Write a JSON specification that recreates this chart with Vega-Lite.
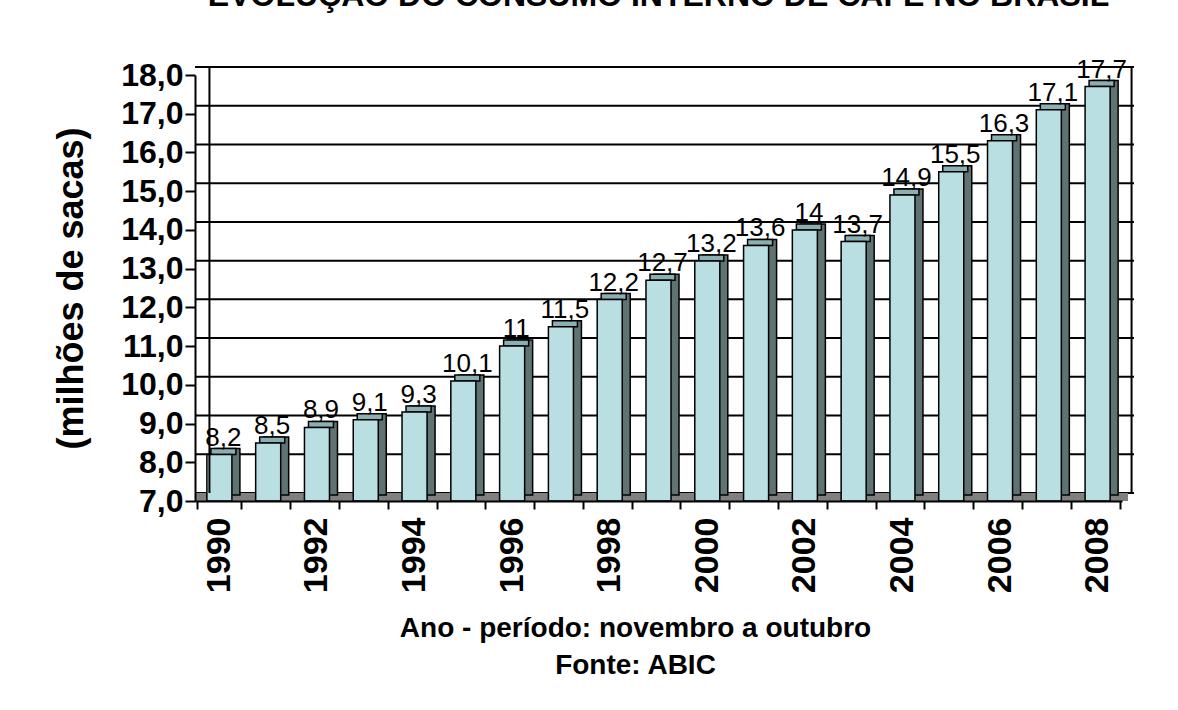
{
  "$schema": "https://vega.github.io/schema/vega-lite/v6.json",
  "autosize": "none",
  "width": 927,
  "height": 426,
  "padding": {"left": 195, "top": 75, "right": 56, "bottom": 209},
  "background": "white",
  "title": {
    "text": "EVOLUÇÃO DO CONSUMO INTERNO DE CAFÉ NO BRASIL",
    "font": "Liberation Sans",
    "fontSize": 32,
    "fontWeight": "bold",
    "color": "black",
    "anchor": "middle",
    "frame": "group",
    "baseline": "alphabetic",
    "offset": 0,
    "dy": -19
  },
  "config": {
    "locale": {"number": {"decimal": ",", "thousands": ".", "grouping": [3], "currency": ["R$", ""]}},
    "view": {"stroke": null},
    "font": "Liberation Sans",
    "axis": {"labelColor": "black", "titleColor": "black", "domainColor": "black", "tickColor": "black", "domainWidth": 2, "tickWidth": 2, "grid": false}
  },
  "datasets": {
    "consumo": [
      {"ano": 1990, "valor": 8.2},
      {"ano": 1991, "valor": 8.5},
      {"ano": 1992, "valor": 8.9},
      {"ano": 1993, "valor": 9.1},
      {"ano": 1994, "valor": 9.3},
      {"ano": 1995, "valor": 10.1},
      {"ano": 1996, "valor": 11},
      {"ano": 1997, "valor": 11.5},
      {"ano": 1998, "valor": 12.2},
      {"ano": 1999, "valor": 12.7},
      {"ano": 2000, "valor": 13.2},
      {"ano": 2001, "valor": 13.6},
      {"ano": 2002, "valor": 14},
      {"ano": 2003, "valor": 13.7},
      {"ano": 2004, "valor": 14.9},
      {"ano": 2005, "valor": 15.5},
      {"ano": 2006, "valor": 16.3},
      {"ano": 2007, "valor": 17.1},
      {"ano": 2008, "valor": 17.7}
    ],
    "grade": [
      {"valor": 7}, {"valor": 8}, {"valor": 9}, {"valor": 10}, {"valor": 11}, {"valor": 12},
      {"valor": 13}, {"valor": 14}, {"valor": 15}, {"valor": 16}, {"valor": 17}, {"valor": 18}
    ]
  },
  "encoding": {
    "y": {
      "field": "valor", "type": "quantitative", "scale": {"domain": [7, 18], "zero": false, "nice": false},
      "title": "(milhões de sacas)",
      "axis": {
        "zindex": 1,
        "values": [7, 8, 9, 10, 11, 12, 13, 14, 15, 16, 17, 18],
        "labelOverlap": false,
        "labelFlush": false,
        "format": ".1f", "labelFontSize": 32, "labelFontWeight": "bold", "labelPadding": 2, "tickSize": 10,
        "titleFontSize": 36, "titleFontWeight": "bold", "titlePadding": 30
      }
    }
  },
  "layer": [
    {
      "data": {"name": "grade"},
      "mark": {"type": "rule", "color": "black", "strokeWidth": 2, "xOffset": 12, "yOffset": -8}
    },
    {
      "data": {"name": "grade"},
      "transform": [{"filter": "datum.valor == 7"}],
      "mark": {"type": "rule", "color": "#808080", "strokeWidth": 8, "xOffset": 6, "yOffset": -4}
    },
    {
      "data": {"name": "consumo"},
      "mark": {"type": "bar", "fill": "#5F7373", "stroke": "black", "strokeWidth": 1.5, "width": {"band": 0.57}, "xOffset": 8, "yOffset": -6, "y2Offset": -6},
      "encoding": {
        "x": {"field": "ano", "type": "ordinal"},
        "y2": {"datum": 7}
      }
    },
    {
      "data": {"name": "consumo"},
      "mark": {"type": "bar", "fill": "#8BB0B3", "stroke": "black", "strokeWidth": 1.5, "width": {"band": 0.57}, "xOffset": 4, "yOffset": -6, "y2Offset": 0},
      "encoding": {
        "x": {"field": "ano", "type": "ordinal"},
        "y2": {"field": "valor"}
      }
    },
    {
      "data": {"name": "consumo"},
      "mark": {"type": "bar", "fill": "#B9DFE2", "stroke": "black", "strokeWidth": 1.5, "width": {"band": 0.57}},
      "encoding": {
        "x": {
          "field": "ano", "type": "ordinal", "title": ["Ano - período: novembro a outubro", "Fonte:  ABIC"],
          "axis": {
            "zindex": 1,
            "labelAngle": -90, "labelFontSize": 34, "labelFontWeight": "bold", "labelPadding": 8,
            "tickSize": 8, "tickBand": "extent",
            "labelExpr": "datum.value % 2 == 0 ? datum.label : ''",
            "titleFontSize": 28, "titleFontWeight": "bold", "titlePadding": 22, "titleLineHeight": 37,
            "titleX": 440
          }
        },
        "y2": {"datum": 7}
      }
    },
    {
      "data": {"name": "consumo"},
      "mark": {"type": "text", "fontSize": 26, "baseline": "alphabetic", "dx": 4, "dy": -9, "color": "black"},
      "encoding": {
        "x": {"field": "ano", "type": "ordinal"},
        "text": {"field": "valor", "type": "quantitative", "format": ".1~f"}
      }
    },
    {
      "data": {"name": "consumo"},
      "transform": [{"filter": "datum.ano == 1990"}],
      "mark": {"type": "rule", "color": "black", "strokeWidth": 2, "xOffset": 12, "yOffset": -8, "y2Offset": -8},
      "encoding": {
        "x": {"field": "ano", "type": "ordinal", "bandPosition": 0},
        "y": {"datum": 7, "type": "quantitative"},
        "y2": {"datum": 18}
      }
    },
    {
      "data": {"name": "consumo"},
      "transform": [{"filter": "datum.ano == 2008"}],
      "mark": {"type": "rule", "color": "black", "strokeWidth": 2, "xOffset": 12, "yOffset": -8, "y2Offset": -8},
      "encoding": {
        "x": {"field": "ano", "type": "ordinal", "bandPosition": 1},
        "y": {"datum": 7, "type": "quantitative"},
        "y2": {"datum": 18}
      }
    }
  ]
}
